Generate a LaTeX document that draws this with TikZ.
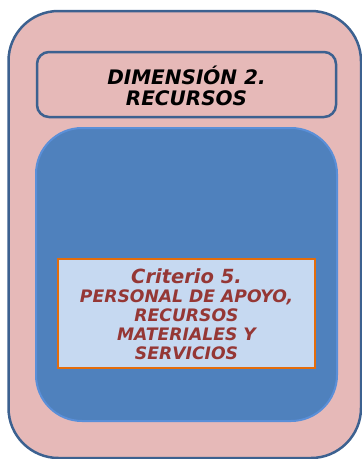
\documentclass[tikz,border=0pt]{standalone}
\usepackage{fontspec}
\setmainfont{DejaVu Sans}
\definecolor{frameblue}{HTML}{3C6190}
\definecolor{pinkfill}{HTML}{E6B9B8}
\definecolor{bluefill}{HTML}{4F81BD}
\definecolor{blueedge}{HTML}{5A8FD8}
\definecolor{critfill}{HTML}{C6D9F1}
\definecolor{critedge}{HTML}{E46C0A}
\definecolor{critred}{HTML}{953735}
\tikzset{
  boxbase/.style={rectangle, inner sep=0pt, outer sep=0pt},
  outerbox/.style={boxbase, draw=frameblue, fill=pinkfill, line width=2.5pt, rounded corners=50pt},
  headbox/.style={boxbase, draw=frameblue, fill=pinkfill, line width=2.5pt, rounded corners=12pt},
  innerbox/.style={boxbase, draw=blueedge, fill=bluefill, line width=2pt, rounded corners=46pt},
  critbox/.style={boxbase, draw=critedge, fill=critfill, line width=1.2pt},
  headtext/.style={align=center, font=\fontsize{20}{21.5}\selectfont\bfseries\itshape, text=black},
  crittext/.style={align=center, font=\fontsize{17.2}{19}\selectfont\bfseries\itshape, text=critred}
}
\begin{document}
\begin{tikzpicture}[x=1pt,y=-1pt]
\useasboundingbox (0,0) rectangle (362,459);
\node[outerbox, minimum width=352.5pt, minimum height=447pt] (outer) at (184.75,234.5) {};
\node[headbox, minimum width=299pt, minimum height=65pt] (head) at (186.5,84.5) {};
\node[headtext] (headlabel) at (186.5,86) {DIMENSIÓN 2.\\RECURSOS};
\node[innerbox, minimum width=301pt, minimum height=293pt] (inner) at (186.5,274.5) {};
\node[critbox, minimum width=257pt, minimum height=109pt] (crit) at (186.5,313.5) {};
\node[crittext] (critlabel) at (186.5,314) {{\fontsize{19.5}{19}\selectfont Criterio 5.}\\PERSONAL DE APOYO,\\RECURSOS\\MATERIALES Y\\SERVICIOS};
\end{tikzpicture}
\end{document}
